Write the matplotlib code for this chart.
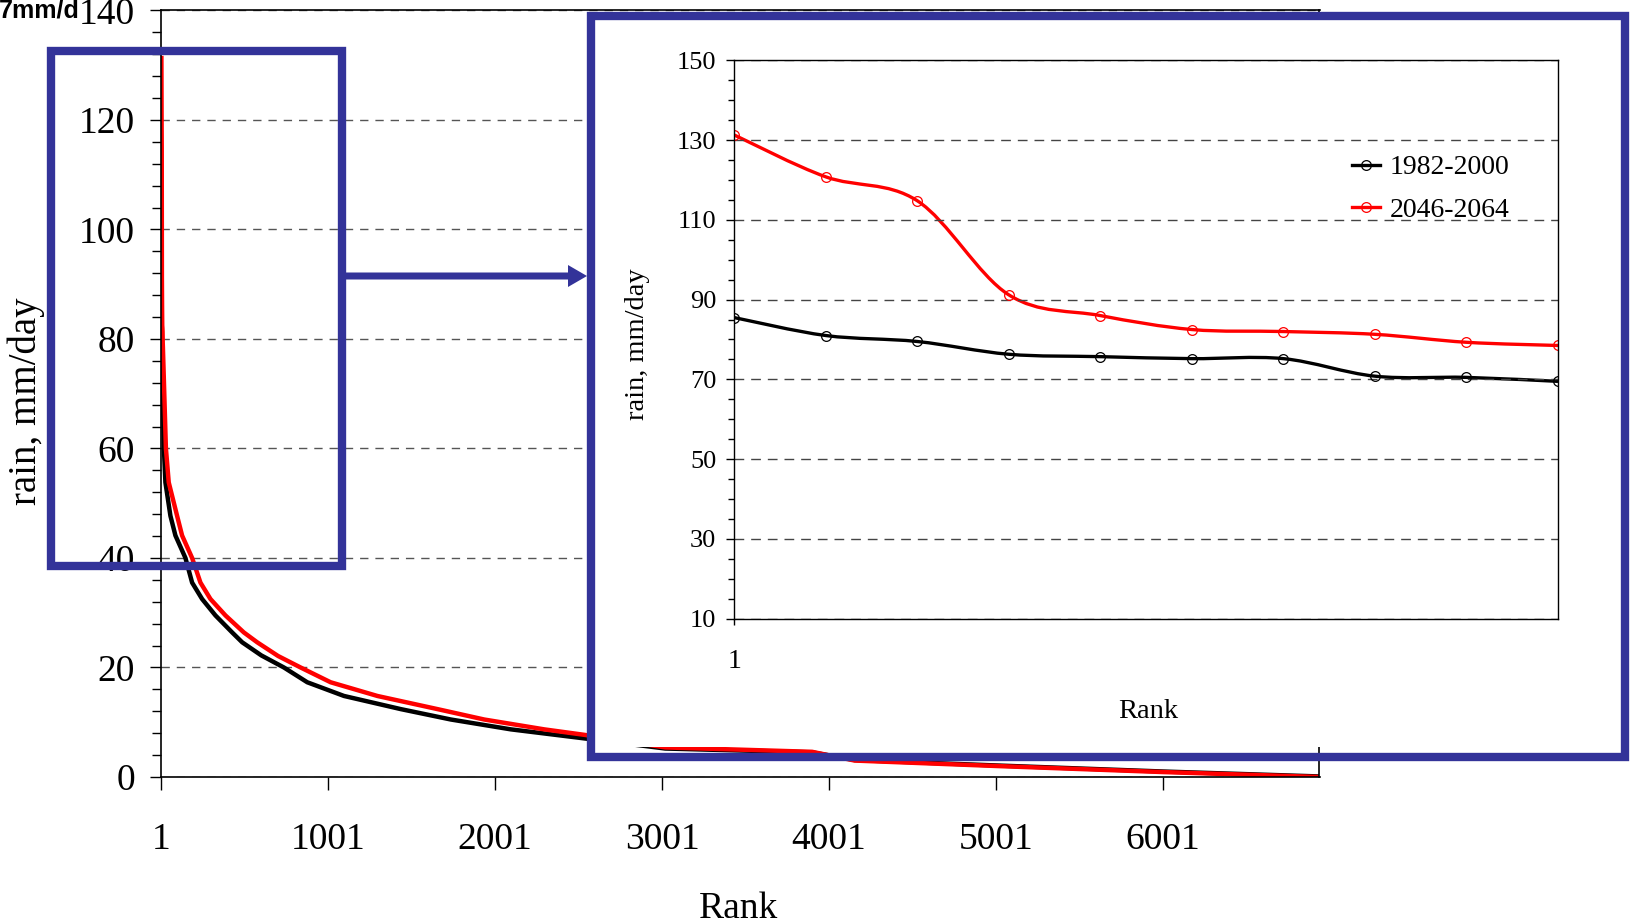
import matplotlib
matplotlib.use('Agg')
import matplotlib.pyplot as plt
from matplotlib.path import Path
from matplotlib.patches import PathPatch, Rectangle, FancyArrow
from matplotlib.lines import Line2D
from matplotlib.ticker import MultipleLocator, FixedLocator

plt.rcParams['font.family'] = ['Liberation Serif', 'DejaVu Serif']

# inset: top 10 ranks
top_ranks = [1, 2, 3, 4, 5, 6, 7, 8, 9, 10]
top_1982 = [85.5, 81.0, 79.5, 76.3, 75.7, 75.2, 75.2, 70.8, 70.5, 69.5]
top_2046 = [131.3, 120.8, 114.8, 91.2, 86.0, 82.5, 82.0, 81.3, 79.3, 78.5]

# main chart: remaining ranks
tail_ranks_1982 = [16, 25, 55, 85, 145, 185, 245, 325, 425, 485, 600, 735, 875, 1095,
                   1435, 1735, 2095, 2495, 3020, 3900, 4155, 5010, 6005, 6940]
tail_1982 = [60, 53.8, 47.7, 44.1, 40, 35.5, 32.5, 29.5, 26.4, 24.6, 22.2, 20, 17.3, 14.8,
             12.4, 10.5, 8.7, 7.2, 5.2, 4.5, 3.1, 2.1, 1.0, 0.1]
tail_ranks_2046 = [28, 45, 95, 125, 185, 235, 295, 385, 495, 575, 700, 835, 1015, 1295,
                   1655, 1935, 2295, 2535, 3020, 3900, 4155, 5010, 6005, 6940]
tail_2046 = [60, 53.8, 47.7, 44.1, 40, 35.5, 32.5, 29.5, 26.4, 24.6, 22.1, 20, 17.3, 14.8,
             12.4, 10.5, 8.7, 7.7, 5.4, 4.6, 3.0, 2.0, 0.9, 0.0]

main_xticks = [1, 1001, 2001, 3001, 4001, 5001, 6001]
n_days = 6940

W, H = 1633, 923
fig = plt.figure(figsize=(W / 100, H / 100), dpi=100)
tr = fig.dpi_scale_trans


def X(px):
    return px / 100


def Y(py):
    return (H - py) / 100


def smooth_path(x, y):
    # excel style smoothed line (catmull-rom as bezier)
    verts = [(x[0], y[0])]
    codes = [Path.MOVETO]
    n = len(x)
    for i in range(n - 1):
        x0, y0 = (x[i - 1], y[i - 1]) if i > 0 else (x[i], y[i])
        x3, y3 = (x[i + 2], y[i + 2]) if i + 2 < n else (x[i + 1], y[i + 1])
        c1 = (x[i] + (x[i + 1] - x0) / 6, y[i] + (y[i + 1] - y0) / 6)
        c2 = (x[i + 1] - (x3 - x[i]) / 6, y[i + 1] - (y3 - y[i]) / 6)
        verts += [c1, c2, (x[i + 1], y[i + 1])]
        codes += [Path.CURVE4] * 3
    return Path(verts, codes)


# ---- main chart
ax = fig.add_axes([161.4 / W, (H - 777) / H, (1319.5 - 161.4) / W, (777 - 10.4) / H])
ax.set_zorder(0)
ax.plot(top_ranks + tail_ranks_1982, top_1982 + tail_1982, color='black', lw=3.2,
        solid_joinstyle='round')
ax.plot(top_ranks + tail_ranks_2046, top_2046 + tail_2046, color='#ff0000', lw=3.2,
        solid_joinstyle='round')
ax.set_xlim(1, n_days)
ax.set_ylim(0, 140)
ax.xaxis.set_major_locator(FixedLocator(main_xticks))
ax.set_xticklabels([str(t) for t in main_xticks])
ax.yaxis.set_major_locator(MultipleLocator(20))
ax.yaxis.set_minor_locator(MultipleLocator(4))
ax.tick_params(axis='x', which='major', direction='out', length=9, width=1, pad=24, labelsize=27)
ax.tick_params(axis='y', which='major', direction='out', length=8, width=1, pad=11, labelsize=27)
ax.tick_params(axis='y', which='minor', direction='out', length=6.3, width=1)
ax.yaxis.grid(True, linestyle=(0, (6, 5)), color='#555555', lw=1)
for s in ax.spines.values():
    s.set_linewidth(1.2)

fig.text(X(26), Y(401), 'rain, mm/day', rotation=90, ha='center', va='center', fontsize=28,
         transform=tr)
fig.text(X(739), Y(909), 'Rank', ha='center', va='center', fontsize=27, transform=tr)
fig.text(X(80), Y(17), '7mm/d', ha='right', va='baseline', fontsize=18, fontweight='bold',
         family=['Liberation Sans', 'DejaVu Sans'], transform=tr)

# white background of the pasted inset
fig.add_artist(Rectangle((X(594), Y(747)), X(1621) - X(594), Y(20) - Y(747), transform=tr,
                         facecolor='white', edgecolor='none', zorder=0.5))

# ---- inset chart
ax2 = fig.add_axes([734.2 / W, (H - 618.6) / H, (1558 - 734.2) / W, (618.6 - 60.4) / H])
ax2.set_zorder(1)
ax2.add_patch(PathPatch(smooth_path(top_ranks, top_1982), fill=False, edgecolor='black', lw=2.4))
ax2.add_patch(PathPatch(smooth_path(top_ranks, top_2046), fill=False, edgecolor='#ff0000', lw=2.4))
ax2.plot(top_ranks, top_1982, 'o', mfc='none', mec='black', ms=7, mew=0.9)
ax2.plot(top_ranks, top_2046, 'o', mfc='none', mec='#ff0000', ms=7, mew=0.9)
ax2.set_xlim(1, 10)
ax2.set_ylim(10, 150)
ax2.set_xticks([1])
ax2.set_xticklabels(['1'])
ax2.yaxis.set_major_locator(FixedLocator([10, 30, 50, 70, 90, 110, 130, 150]))
ax2.yaxis.set_minor_locator(MultipleLocator(5))
ax2.tick_params(axis='x', which='major', direction='out', length=4, width=1, pad=18, labelsize=20)
ax2.tick_params(axis='y', which='major', direction='out', length=6, width=1, pad=7, labelsize=19)
ax2.tick_params(axis='y', which='minor', direction='out', length=4.5, width=1)
ax2.yaxis.grid(True, linestyle=(0, (7, 5)), color='#444444', lw=1)
for s in ax2.spines.values():
    s.set_linewidth(1)

handles = [Line2D([], [], color='black', lw=2.4, marker='o', mfc='none', mec='black', ms=7, mew=0.9),
           Line2D([], [], color='#ff0000', lw=2.4, marker='o', mfc='none', mec='#ff0000', ms=7, mew=0.9)]
ax2.legend(handles, ['1982-2000', '2046-2064'], loc='upper left',
           bbox_to_anchor=(1352 / W, 1 - 155 / H), bbox_transform=fig.transFigure,
           frameon=False, fontsize=20, handlelength=1.0, handletextpad=0.35,
           labelspacing=0.6, borderpad=0, borderaxespad=0)

fig.text(X(637), Y(344), 'rain, mm/day', rotation=90, ha='center', va='center', fontsize=20.5, transform=tr)
fig.text(X(1148), Y(712), 'Rank', ha='center', va='center', fontsize=20.5, transform=tr)

# ---- blue frames and arrow
blue = '#333399'
fig.add_artist(Rectangle((X(590.5), Y(757)), X(1624.7) - X(590.5), Y(15.6) - Y(757), transform=tr,
                         fill=False, edgecolor=blue, lw=6, zorder=3, joinstyle='miter'))
fig.add_artist(Rectangle((X(51), Y(565.5)), X(341.6) - X(51), Y(51) - Y(565.5), transform=tr,
                         fill=False, edgecolor=blue, lw=6, zorder=3, joinstyle='miter'))
fig.add_artist(FancyArrow(X(344), Y(276), X(587) - X(344), 0, width=0.07, head_width=0.22,
                          head_length=0.19, length_includes_head=True, transform=tr,
                          facecolor=blue, edgecolor='none', zorder=3))

fig.savefig('out.png', dpi=100)
